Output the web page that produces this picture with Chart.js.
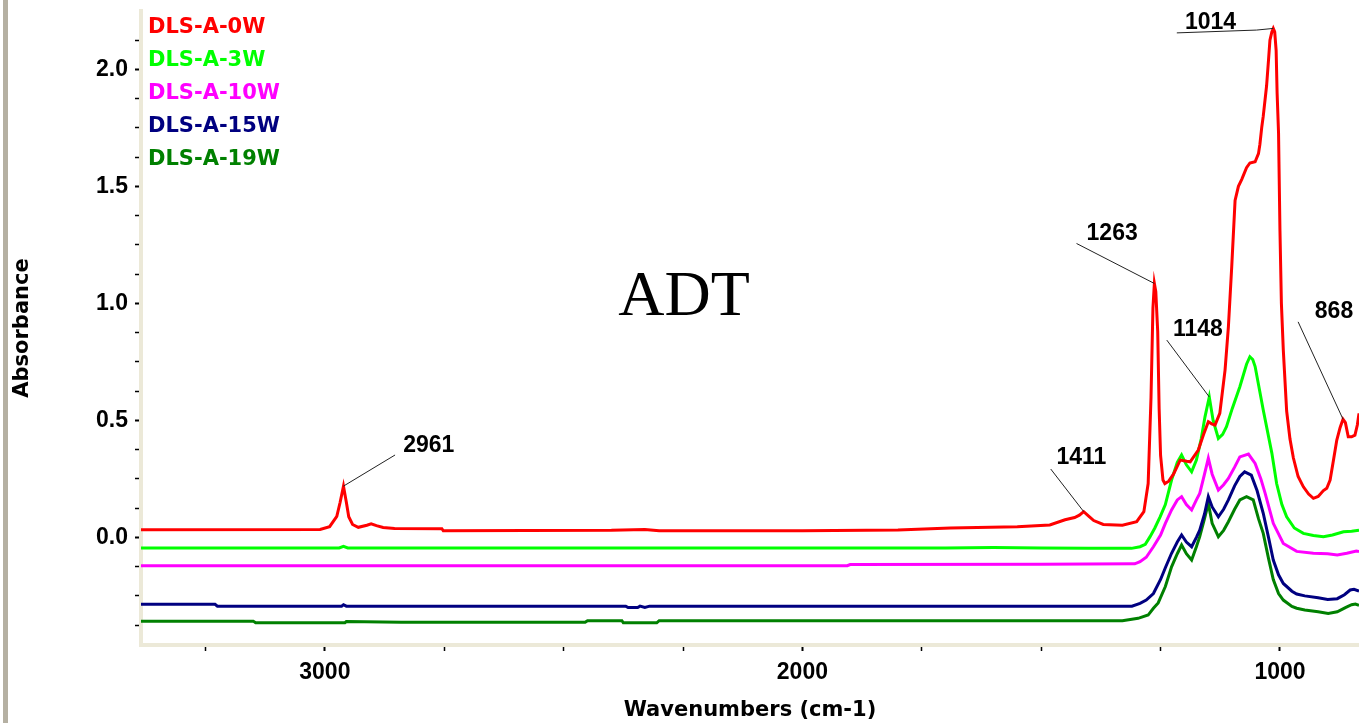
<!DOCTYPE html>
<html lang="en">
<head>
  <meta charset="UTF-8">
  <title>ADT - FTIR absorbance</title>
  <script src="https://cdn.jsdelivr.net/npm/chart.js"></script>
  <style>
    body {margin: 0; background: #fff;}
    #spectrum {display: block;}
  </style>
</head>
<body>
<canvas id="spectrum" width="1359" height="723"></canvas>

<script>
  // series labels
  const seriesNames = ['DLS-A-0W', 'DLS-A-3W', 'DLS-A-10W', 'DLS-A-15W', 'DLS-A-19W'];

  // tick positions (labels only on the round ones)
  const xTicks = [1000, 1250, 1500, 1750, 2000, 2250, 2500, 2750, 3000, 3250];
  const yTicks = [-0.375, -0.25, -0.125, 0, 0.125, 0.25, 0.375, 0.5, 0.625, 0.75, 0.875, 1, 1.125, 1.25, 1.375, 1.5, 1.625, 1.75, 1.875, 2, 2.125];

  // DLS-A-0W
  const wn0W = [3385, 3010, 2990, 2975, 2968, 2961, 2955, 2950, 2942, 2930, 2912, 2903, 2892, 2878, 2854, 2755, 2752, 2400, 2330, 2300, 2000, 1800, 1690, 1550,
    1482, 1450, 1430, 1420, 1411, 1400, 1390, 1370, 1330, 1300, 1285, 1276, 1270, 1266, 1263, 1260, 1256, 1253, 1250, 1245, 1241, 1233, 1223, 1209, 1195, 1188,
    1171, 1160, 1150, 1143, 1136, 1126, 1115, 1108, 1101, 1094, 1087, 1080, 1070, 1063, 1052, 1045, 1042, 1038, 1035, 1028, 1024, 1021, 1017, 1014, 1011, 1008,
    1006, 1003, 1000, 997, 993, 986, 979, 972, 962, 951, 940, 930, 920, 909, 902, 895, 888, 881, 874, 868, 863, 857, 850, 843, 838, 834.5];
  const abs0W = [0.033, 0.034, 0.046, 0.09, 0.15, 0.219, 0.15, 0.088, 0.055, 0.043, 0.052, 0.058, 0.05, 0.042, 0.038, 0.037, 0.028, 0.03, 0.034, 0.028, 0.028, 0.032, 0.04, 0.045,
    0.053, 0.075, 0.085, 0.095, 0.11, 0.09, 0.072, 0.055, 0.052, 0.067, 0.11, 0.23, 0.6, 0.98, 1.085, 1.05, 0.88, 0.55, 0.35, 0.245, 0.23, 0.24, 0.27, 0.33, 0.325, 0.323,
    0.373, 0.44, 0.494, 0.485, 0.48, 0.53, 0.715, 0.9, 1.157, 1.44, 1.5, 1.53, 1.58, 1.6, 1.605, 1.64, 1.68, 1.755, 1.8, 1.93, 2.04, 2.125, 2.16, 2.175, 2.16, 2.08,
    1.9, 1.73, 1.31, 1.0, 0.8, 0.54, 0.42, 0.34, 0.26, 0.216, 0.185, 0.167, 0.175, 0.2, 0.21, 0.245, 0.33, 0.416, 0.47, 0.505, 0.49, 0.43, 0.43, 0.437, 0.48, 0.53];

  // DLS-A-3W
  const wn3W = [3385, 2970, 2961, 2952, 2000, 1700, 1600, 1500, 1400, 1311, 1293, 1282, 1272, 1262, 1251, 1240, 1227, 1215, 1206, 1196, 1185, 1175, 1165, 1157, 1148,
    1140, 1129, 1120, 1112, 1100, 1084, 1070, 1063, 1057, 1052, 1035, 1017, 1007, 996, 986, 970, 951, 930, 909, 890, 867, 850, 834.5];
  const abs3W = [-0.045, -0.045, -0.038, -0.045, -0.045, -0.045, -0.043, -0.045, -0.047, -0.047, -0.04, -0.03, 0.003, 0.04, 0.088, 0.14, 0.245, 0.32, 0.352, 0.31, 0.28, 0.33, 0.42, 0.515, 0.6,
    0.5, 0.423, 0.44, 0.473, 0.55, 0.644, 0.74, 0.772, 0.76, 0.73, 0.544, 0.36, 0.23, 0.14, 0.088, 0.04, 0.017, 0.008, 0.003, 0.01, 0.024, 0.026, 0.03];

  // DLS-A-10W
  const wn10W = [3385, 1906, 1900, 1500, 1304, 1293, 1280, 1265, 1250, 1240, 1227, 1215, 1206, 1196, 1185, 1175, 1168, 1158, 1150, 1142, 1129, 1118, 1108, 1095, 1084,
    1066, 1052, 1040, 1031, 1014, 993, 965, 930, 900, 880, 860, 840, 834.5];
  const abs10W = [-0.121, -0.121, -0.116, -0.115, -0.113, -0.104, -0.085, -0.04, 0.01, 0.06, 0.117, 0.16, 0.174, 0.14, 0.117, 0.16, 0.188, 0.27, 0.338, 0.27, 0.202, 0.225, 0.252, 0.3, 0.344,
    0.356, 0.316, 0.25, 0.188, 0.06, -0.026, -0.06, -0.068, -0.07, -0.075, -0.068, -0.058, -0.06];

  // DLS-A-15W
  const wn15W = [3385, 3230, 3225, 2965, 2961, 2955, 2370, 2365, 2345, 2340, 2330, 2320, 1500, 1310, 1293, 1280, 1265, 1250, 1240, 1227, 1215, 1206, 1196, 1185, 1175,
    1168, 1158, 1150, 1142, 1129, 1118, 1108, 1095, 1084, 1074, 1060, 1048, 1035, 1024, 1014, 1003, 993, 975, 965, 948, 920, 900, 880, 865, 853, 845, 834.5];
  const abs15W = [-0.286, -0.286, -0.294, -0.294, -0.288, -0.294, -0.294, -0.3, -0.3, -0.294, -0.3, -0.294, -0.294, -0.294, -0.282, -0.268, -0.24, -0.18, -0.13, -0.068, -0.02, 0.01, -0.02, -0.04, 0.0,
    0.031, 0.1, 0.174, 0.13, 0.088, 0.12, 0.16, 0.22, 0.26, 0.28, 0.266, 0.2, 0.103, 0.0, -0.097, -0.16, -0.197, -0.23, -0.242, -0.25, -0.258, -0.265, -0.262, -0.245, -0.225, -0.222, -0.23];

  // DLS-A-19W
  const wn19W = [3385, 3150, 3145, 2958, 2955, 2840, 2455, 2450, 2378, 2375, 2305, 2300, 1330, 1297, 1276, 1265, 1255, 1240, 1227, 1215, 1206, 1196, 1185, 1175, 1168,
    1158, 1150, 1142, 1129, 1118, 1108, 1095, 1084, 1070, 1056, 1045, 1035, 1024, 1014, 1003, 993, 975, 965, 948, 920, 899, 880, 863, 850, 842, 834.5];
  const abs19W = [-0.358, -0.358, -0.365, -0.365, -0.36, -0.363, -0.363, -0.356, -0.356, -0.365, -0.365, -0.356, -0.356, -0.346, -0.332, -0.303, -0.28, -0.21, -0.126, -0.07, -0.033, -0.07, -0.097, -0.04, 0.003,
    0.08, 0.145, 0.06, 0.003, 0.03, 0.067, 0.12, 0.16, 0.174, 0.16, 0.08, 0.017, -0.09, -0.18, -0.24, -0.268, -0.295, -0.303, -0.31, -0.318, -0.325, -0.318, -0.3, -0.288, -0.285, -0.29];

  // labelled peaks
  const peakNames = ['2961', '1411', '1263', '1148', '868', '1014'];
  const peakWn = [2961, 1411, 1263, 1148, 868, 1014];
  const peakAbs = [0.219, 0.11, 1.085, 0.60, 0.505, 2.175];

  // where each callout sits (axis units): leader start + text anchor
  const callouts = [
    {from: [[2853, 0.352]], text: [2836, 0.394]},
    {from: [[1480, 0.292]], text: [1468, 0.339]},
    {from: [[1426, 1.256]], text: [1405, 1.30]},
    {from: [[1237, 0.843]], text: [1224, 0.886]},
    {from: [[962, 0.921]], text: [927, 0.964]},
    {from: [[1216, 2.156], [1049, 2.168]], text: [1199, 2.198]}
  ];

  const colors = ['#ff0000', '#00ff00', '#ff00ff', '#000080', '#008000'];
  const wnSets = [wn0W, wn3W, wn10W, wn15W, wn19W];
  const absSets = [abs0W, abs3W, abs10W, abs15W, abs19W];

  const tickFont = {family: 'Liberation Sans', size: 23, weight: 'bold'};
  const titleFont = {family: 'DejaVu Sans', size: 21, weight: 'bold'};

  const isMajorX = v => v % 1000 === 0;
  const isMajorY = v => Math.abs(v * 2 - Math.round(v * 2)) < 1e-6;

  const overlay = {
    id: 'overlay',
    beforeDraw(chart) {
      const ctx = chart.ctx;
      ctx.save();
      ctx.fillStyle = '#fff';
      ctx.fillRect(0, 0, chart.width, chart.height);
      // window edge on the left
      ctx.fillStyle = '#b5b0a2';
      ctx.fillRect(3, 0, 5, chart.height);
      ctx.restore();
    },
    afterDatasetsDraw(chart) {
      const {ctx, scales: {x, y}} = chart;
      ctx.save();

      // peak callouts
      ctx.strokeStyle = '#222';
      ctx.lineWidth = 1;
      ctx.fillStyle = '#000';
      ctx.font = 'bold 23px "Liberation Sans"';
      ctx.textAlign = 'left';
      ctx.textBaseline = 'middle';
      peakNames.forEach((name, i) => {
        const c = callouts[i];
        ctx.beginPath();
        c.from.forEach((p, k) => {
          const px = x.getPixelForValue(p[0]), py = y.getPixelForValue(p[1]);
          if (k === 0) ctx.moveTo(px, py); else ctx.lineTo(px, py);
        });
        ctx.lineTo(x.getPixelForValue(peakWn[i]), y.getPixelForValue(peakAbs[i]));
        ctx.stroke();
        ctx.fillText(name, x.getPixelForValue(c.text[0]), y.getPixelForValue(c.text[1]));
      });

      // legend as coloured text
      ctx.font = 'bold 21px "DejaVu Sans"';
      chart.data.datasets.forEach((ds, i) => {
        ctx.fillStyle = ds.borderColor;
        ctx.fillText(ds.label, chart.chartArea.left + 7, 28 + i * 33);
      });

      // sample name
      ctx.fillStyle = '#000';
      ctx.font = '64px "Liberation Serif"';
      ctx.textAlign = 'center';
      ctx.textBaseline = 'alphabetic';
      ctx.fillText('ADT', 684, 315);
      ctx.restore();
    }
  };

  new Chart(document.getElementById('spectrum'), {
    type: 'line',
    data: {
      datasets: seriesNames.map((name, i) => ({
        label: name,
        data: wnSets[i].map((w, k) => ({x: w, y: absSets[i][k]})),
        borderColor: colors[i],
        backgroundColor: colors[i],
        borderWidth: 3,
        pointRadius: 0,
        tension: 0,
        fill: false
      }))
    },
    options: {
      responsive: false,
      animation: false,
      devicePixelRatio: 1,
      layout: {padding: {top: 11, right: 0, left: 0, bottom: 0}},
      plugins: {legend: {display: false}, tooltip: {enabled: false}},
      scales: {
        x: {
          type: 'linear',
          reverse: true,
          min: 834.5,
          max: 3385,
          afterBuildTicks(scale) { scale.ticks = xTicks.map(v => ({value: v})); },
          afterFit(scale) {
            scale.height = 78;
            scale.paddingLeft = 0; scale.paddingRight = 0;
          },
          border: {color: '#ece9d8', width: 4},
          grid: {drawOnChartArea: false, drawTicks: true, tickLength: 6, tickColor: '#000',
            tickWidth: ctx => (ctx.tick && isMajorX(ctx.tick.value)) ? 2 : 1.5},
          ticks: {
            autoSkip: false,
            maxRotation: 0,
            padding: 8,
            color: '#000',
            font: tickFont,
            callback: v => (isMajorX(v) ? String(v) : '')
          },
          title: {display: true, text: 'Wavenumbers (cm-1)', color: '#000', font: titleFont, padding: {top: 0, bottom: 0}}
        },
        y: {
          min: -0.46,
          max: 2.2495,
          afterBuildTicks(scale) { scale.ticks = yTicks.map(v => ({value: v})); },
          afterFit(scale) {
            scale.width = 141;
            scale.paddingTop = 0; scale.paddingBottom = 0;
          },
          border: {color: '#ece9d8', width: 4},
          grid: {drawOnChartArea: false, drawTicks: true, tickLength: 6, tickColor: '#000',
            tickWidth: ctx => (ctx.tick && isMajorY(ctx.tick.value)) ? 2 : 1.5},
          ticks: {
            autoSkip: false,
            padding: 7,
            color: '#000',
            font: tickFont,
            callback: v => (isMajorY(v) ? v.toFixed(1) : '')
          },
          title: {display: true, text: 'Absorbance', color: '#000', font: titleFont, padding: {top: 10, bottom: 0}}
        }
      }
    },
    plugins: [overlay]
  });
</script>
</body>
</html>
